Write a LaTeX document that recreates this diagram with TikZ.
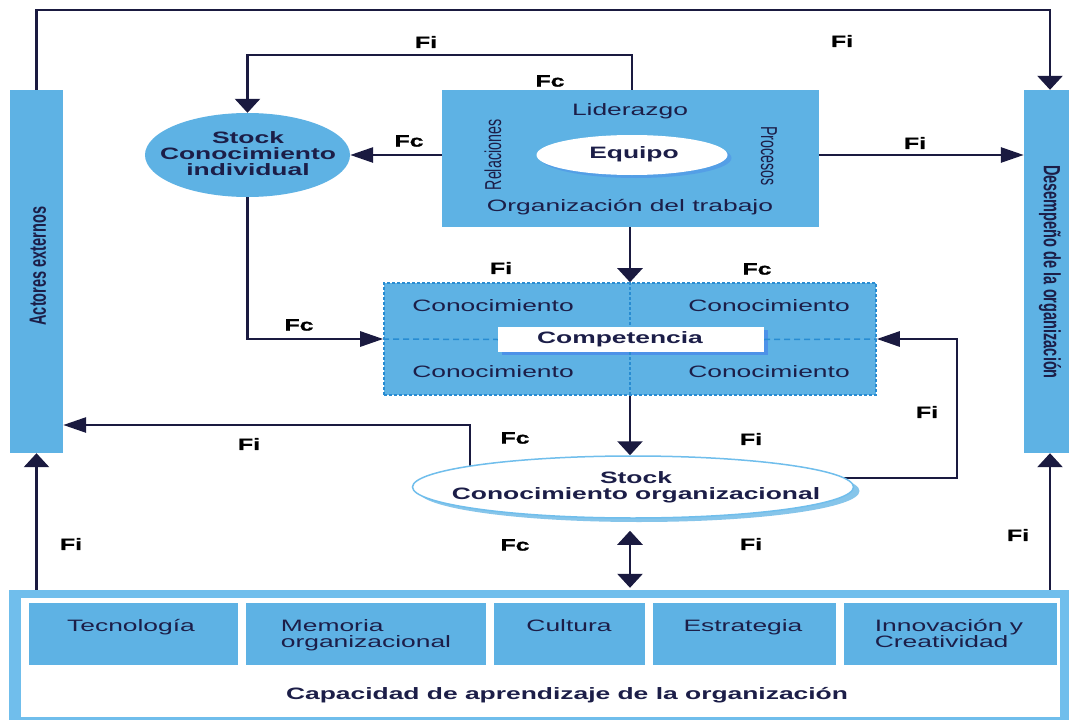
\documentclass[tikz,border=0pt]{standalone}
\usepackage{fontspec}
\setmainfont{Liberation Sans}
\newfontfamily\widef[FakeStretch=1.6]{Liberation Sans}
\newfontfamily\labf[FakeStretch=1.5,FakeBold=1.2]{Liberation Sans Bold}
\newfontfamily\narrowf[FakeStretch=0.62]{Liberation Sans}
\usetikzlibrary{arrows.meta,shapes.geometric,backgrounds,shadows}
\definecolor{boxblue}{RGB}{94,178,228}
\definecolor{rimblue}{RGB}{112,190,236}
\definecolor{dashblue}{RGB}{40,140,210}
\definecolor{navy}{RGB}{26,26,64}
\definecolor{ink}{RGB}{28,30,72}
\begin{document}
\begin{tikzpicture}[x=1pt,y=-1pt,
  bluebox/.style={fill=boxblue, draw=none, inner sep=0pt},
  txt/.style={text=ink, inner sep=0pt, font=\widef\fontsize{16.5}{16}\selectfont},
  btxt/.style={text=ink, inner sep=0pt, font=\widef\bfseries\fontsize{16.5}{16}\selectfont},
  lab/.style={text=black, inner sep=0pt, font=\labf\fontsize{16.5}{16}\selectfont},
  ntxt/.style={text=ink, inner sep=0pt, font=\narrowf\fontsize{23}{23}\selectfont},
  nbtxt/.style={text=ink, inner sep=0pt, font=\narrowf\bfseries\fontsize{23.5}{23}\selectfont},
  flow/.style={draw=navy, line width=2.8pt},
  harrow/.style={flow, -{Triangle[length=23pt,width=15pt]}},
  varrow/.style={flow, -{Triangle[length=14pt,width=25pt]}},
  dblarrow/.style={flow, {Triangle[length=14pt,width=25pt]}-{Triangle[length=14pt,width=25pt]}},
  softshadow/.style={drop shadow={shadow xshift=6pt, shadow yshift=-4pt, fill=boxblue, opacity=.75}}
]
\useasboundingbox (0,0) rectangle (1069,720);

% side bars
\node[bluebox, minimum width=53pt, minimum height=363pt] (act) at (36.5,271.5) {};
\node[nbtxt, rotate=90] (actT) at (38,266) {Actores externos};
\node[bluebox, minimum width=45pt, minimum height=363pt] (des) at (1046.5,271.5) {};
\node[nbtxt, rotate=-90] (desT) at (1050,272) {Desempeño de la organización};

% team box
\node[bluebox, minimum width=377pt, minimum height=137pt] (team) at (630.5,158.5) {};
\node[txt] (lid) at (630,111) {Liderazgo};
\node[txt] (orgT) at (630,207) {Organización del trabajo};
\node[ntxt, rotate=90] (rel) at (493,155) {Relaciones};
\node[ntxt, rotate=-90] (pro) at (769,156) {Procesos};
\node[ellipse, fill=white, minimum width=191pt, minimum height=40pt, inner sep=0pt,
      drop shadow={shadow xshift=4pt, shadow yshift=-3pt, fill=boxblue!80!blue, opacity=.5}] (eq) at (632,155) {};
\node[btxt] (eqT) at (634,154) {Equipo};

% individual stock
\node[ellipse, fill=boxblue, minimum width=205pt, minimum height=84pt, inner sep=0pt] (ind) at (247.5,155) {};
\node[btxt, align=center] (indT) at (248,154) {Stock\\Conocimiento\\individual};

% competence box
\node[bluebox, draw=dashblue, dash pattern=on 3pt off 2pt, line width=1.6pt,
      minimum width=492pt, minimum height=112pt] (comp) at (630,339) {};
\node[fill=white, minimum width=266pt, minimum height=25pt, inner sep=0pt,
      drop shadow={shadow xshift=4pt, shadow yshift=-3pt, fill=boxblue!70!blue, opacity=.6}] (cbox) at (631,339.5) {};
\draw[dashblue, line width=1.5pt, dash pattern=on 6pt off 4pt] (comp.west) -- (cbox.west);
\draw[dashblue, line width=1.5pt, dash pattern=on 6pt off 4pt] (cbox.east) -- (comp.east);
\draw[dashblue, line width=1.5pt, dash pattern=on 3pt off 2pt] (comp.north) -- (comp.north |- cbox.north);
\draw[dashblue, line width=1.5pt, dash pattern=on 3pt off 2pt] (comp.south |- cbox.south) -- (comp.south);
\node[btxt] (cT) at (620,339) {Competencia};
\node[txt] (k1) at (493,306) {Conocimiento};
\node[txt] (k2) at (769,306) {Conocimiento};
\node[txt] (k3) at (493,372) {Conocimiento};
\node[txt] (k4) at (769,372) {Conocimiento};

% organisational stock
\node[ellipse, fill=white, draw=rimblue, line width=1.5pt, minimum width=441pt, minimum height=62pt,
      inner sep=0pt, softshadow] (sto) at (633,487) {};
\node[btxt, align=center] (stoT) at (636,487) {Stock\\Conocimiento organizacional};

% bottom frame
\node[fill=rimblue, minimum width=1060pt, minimum height=130pt, inner sep=0pt] (bot) at (539,655) {};
\node[fill=white, minimum width=1039pt, minimum height=119pt, inner sep=0pt] (botin) at (540.5,657.5) {};
\node[bluebox, minimum width=209pt, minimum height=62pt] (b1) at (133.5,634) {};
\node[bluebox, minimum width=240pt, minimum height=62pt] (b2) at (366,634) {};
\node[bluebox, minimum width=151pt, minimum height=62pt] (b3) at (569.5,634) {};
\node[bluebox, minimum width=183pt, minimum height=62pt] (b4) at (744.5,634) {};
\node[bluebox, minimum width=213pt, minimum height=62pt] (b5) at (950.5,634) {};
\node[txt, anchor=north] (t1) at (131,619) {Tecnología};
\node[txt, anchor=north, align=left] (t2) at (366,619) {Memoria\\organizacional};
\node[txt, anchor=north] (t3) at (569,619) {Cultura};
\node[txt, anchor=north] (t4) at (743,619) {Estrategia};
\node[txt, anchor=north, align=left] (t5) at (949,619) {Innovación y\\Creatividad};
\node[btxt] (cap) at (567,695) {Capacidad de aprendizaje de la organización};

% flow labels
\node[lab] (l1) at (426,42) {Fi};
\node[lab] (l2) at (842,41) {Fi};
\node[lab] (l3) at (550,81) {Fc};
\node[lab] (l4) at (409,141) {Fc};
\node[lab] (l5) at (915,143) {Fi};
\node[lab] (l6) at (501,268) {Fi};
\node[lab] (l7) at (757,269) {Fc};
\node[lab] (l8) at (299,325) {Fc};
\node[lab] (l9) at (249,444) {Fi};
\node[lab] (l10) at (515,438) {Fc};
\node[lab] (l11) at (751,439) {Fi};
\node[lab] (l12) at (927,412) {Fi};
\node[lab] (l13) at (71,544) {Fi};
\node[lab] (l14) at (515,545) {Fc};
\node[lab] (l15) at (751,544) {Fi};
\node[lab] (l16) at (1018,535) {Fi};

% connectors
\begin{scope}[on background layer]
\fill[white] (0,0) rectangle (1069,720);
\coordinate (tr) at (1050,10);
\coordinate (tl) at (632,55);
\coordinate (p1) at (470,425);
\coordinate (p2) at (957,478);
\draw[varrow] (act.north) -- (act.north |- tr) -- (tr) -- (tr |- des.north);
\draw[varrow] (team.north -| tl) -- (tl) -- (tl -| ind) -- (ind.north);
\draw[harrow] (team.west |- ind) -- (ind.east);
\draw[harrow] (team.east |- ind) -- (des.west |- ind);
\draw[varrow] (team.south -| comp) -- (comp.north);
\draw[harrow] (ind.south) |- (comp.west);
\draw[varrow] (comp.south) -- (comp.south |- sto.north);
\draw[harrow] (sto.center -| p1) -- (p1) -- (p1 -| act.east);
\draw[harrow] (sto.center |- p2) -- (p2) -- (p2 |- comp.east) -- (comp.east);
\draw[dblarrow, shorten <=12pt, shorten >=2pt] (comp.south |- sto.south) -- (comp.south |- bot.north);
\draw[varrow] (bot.north -| act) -- (act.south);
\draw[varrow] (bot.north -| tr) -- (tr |- des.south);
\end{scope}
\end{tikzpicture}
\end{document}
